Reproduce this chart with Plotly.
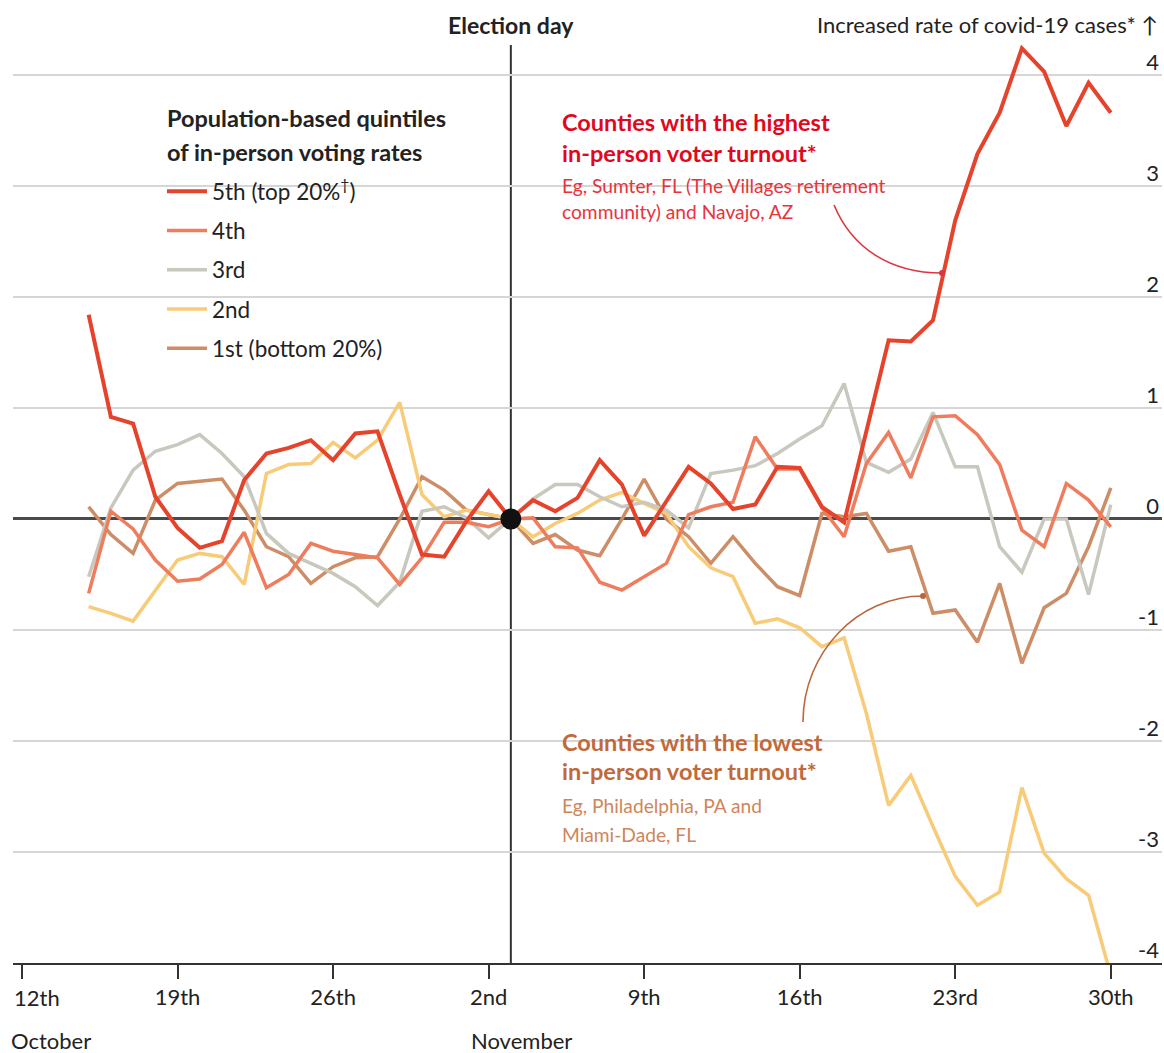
import pandas as pd
import plotly.graph_objects as go

# ---------------- data ----------------
dates = pd.date_range("2020-10-15", "2020-11-30", freq="D").strftime("%Y-%m-%d").tolist()

q5_top = [1.84, 0.92, 0.86, 0.20, -0.08, -0.26, -0.20, 0.35, 0.59, 0.64, 0.71, 0.53, 0.77, 0.79,
          0.22, -0.32, -0.34, -0.02, 0.25, 0.0, 0.17, 0.07, 0.19, 0.53, 0.31, -0.15, 0.16, 0.47,
          0.32, 0.09, 0.13, 0.47, 0.46, 0.11, -0.03, 0.78, 1.61, 1.60, 1.79, 2.69, 3.29, 3.66,
          4.24, 4.03, 3.54, 3.93, 3.66]
q4 = [-0.67, 0.07, -0.09, -0.37, -0.56, -0.54, -0.41, -0.12, -0.62, -0.50, -0.22, -0.29, -0.32, -0.35,
      -0.59, -0.35, -0.03, -0.03, -0.07, 0.0, 0.01, -0.25, -0.26, -0.57, -0.64, -0.52, -0.40, 0.04,
      0.11, 0.15, 0.74, 0.45, 0.45, 0.10, -0.16, 0.50, 0.78, 0.37, 0.92, 0.93, 0.76, 0.49,
      -0.10, -0.25, 0.32, 0.17, -0.07]
q3 = [-0.52, 0.10, 0.44, 0.61, 0.67, 0.76, 0.59, 0.38, -0.13, -0.31, -0.40, -0.49, -0.61, -0.78,
      -0.57, 0.07, 0.11, 0.01, -0.17, 0.0, 0.18, 0.31, 0.31, 0.20, 0.11, 0.15, 0.08, -0.08,
      0.41, 0.44, 0.48, 0.59, 0.72, 0.84, 1.22, 0.51, 0.42, 0.54, 0.96, 0.47, 0.47, -0.25,
      -0.48, 0.0, 0.0, -0.68, 0.13]
q2 = [-0.79, -0.85, -0.92, -0.64, -0.37, -0.31, -0.34, -0.59, 0.41, 0.49, 0.50, 0.69, 0.55, 0.71,
      1.05, 0.22, 0.02, 0.08, 0.04, 0.0, -0.16, -0.04, 0.05, 0.17, 0.24, 0.14, 0.05, -0.25,
      -0.44, -0.52, -0.94, -0.90, -0.98, -1.15, -1.07, -1.75, -2.58, -2.31, -2.77, -3.22, -3.48, -3.36,
      -2.42, -3.01, -3.24, -3.39, -4.11]
q1_bottom = [0.11, -0.14, -0.31, 0.17, 0.32, 0.34, 0.36, 0.08, -0.25, -0.34, -0.58, -0.43, -0.35, -0.34,
             0.0, 0.38, 0.26, 0.08, 0.04, 0.0, -0.22, -0.14, -0.28, -0.33, 0.0, 0.36, 0.0, -0.16,
             -0.40, -0.16, -0.40, -0.61, -0.69, 0.05, 0.02, 0.05, -0.29, -0.25, -0.85, -0.82, -1.11, -0.58,
             -1.30, -0.80, -0.67, -0.25, 0.28]

series_names = ["1st (bottom 20%)", "2nd", "3rd", "4th", "5th (top 20%<sup>†</sup>)"]
series_values = [q1_bottom, q2, q3, q4, q5_top]
series_colors = ["#cd8d66", "#f8cb78", "#c8c8be", "#ef7c5d", "#e5432c"]
series_widths = [3.5, 3.5, 3.5, 3.5, 4]
series_rank = [5, 4, 3, 2, 1]

tick_dates = ["2020-10-12", "2020-10-19", "2020-10-26", "2020-11-02",
              "2020-11-09", "2020-11-16", "2020-11-23", "2020-11-30"]
tick_labels = ["12th", "19th", "26th", "2nd", "9th", "16th", "23rd", "30th"]
y_ticks = [-4, -3, -2, -1, 0, 1, 2, 3, 4]
y_tick_labels = ["-4", "-3", "-2", "-1", "0", "1", "2", "3", "4"]
election_day = "2020-11-03"
election_value = 0

# ---------------- layout helpers ----------------
W, H = 1164, 1053
L, R, T, B = 13, 2, 45, 90
FONT = "Lato"
DARK = "#222222"


def px(x):
    return (x - L) / (W - L - R)


def py(y):
    return (H - B - y) / (H - T - B)


fig = go.Figure()

for name, vals, col, wid, rk in zip(series_names, series_values, series_colors, series_widths, series_rank):
    fig.add_trace(go.Scatter(
        x=dates, y=vals, mode="lines", name=name,
        line=dict(color=col, width=wid), legendgroup=name, legendrank=rk,
        hoverinfo="skip"))

fig.add_trace(go.Scatter(
    x=[election_day], y=[election_value], mode="markers",
    marker=dict(color="#111111", size=21), showlegend=False, hoverinfo="skip"))

x0 = pd.Timestamp("2020-10-12") - pd.Timedelta(days=9 / 22.22)
x1 = pd.Timestamp("2020-10-12") + pd.Timedelta(days=(1162 - 22) / 22.22)

shapes = []
shapes.append(dict(type="line", xref="x", yref="paper", x0=election_day, x1=election_day,
                   y0=0, y1=1, line=dict(color="#333333", width=2), layer="between"))
shapes.append(dict(type="rect", xref="paper", yref="paper", x0=px(548), x1=px(913),
                   y0=py(228), y1=py(100), fillcolor="white", line=dict(width=0), layer="between"))
shapes.append(dict(type="rect", xref="paper", yref="paper", x0=px(548), x1=px(832),
                   y0=py(852), y1=py(724), fillcolor="white", line=dict(width=0), layer="between"))
shapes.append(dict(type="rect", xref="paper", yref="paper", x0=px(146), x1=px(452),
                   y0=py(368), y1=py(100), fillcolor="white", line=dict(width=0), layer="between"))


def ppath(points):
    (a, b), (c, d), (e, f), (g, h) = points
    return (f"M {px(a)},{py(b)} C {px(c)},{py(d)} {px(e)},{py(f)} {px(g)},{py(h)}")


shapes.append(dict(type="path", xref="paper", yref="paper",
                   path=ppath([(834, 205), (852, 248), (890, 273), (942, 273)]),
                   line=dict(color="#d9363e", width=1.6)))
shapes.append(dict(type="path", xref="paper", yref="paper",
                   path=ppath([(803, 722), (803, 652), (858, 596), (923, 596)]),
                   line=dict(color="#b9683e", width=1.6)))
for (cx, cy, col) in [(942, 273, "#d9363e"), (923, 596, "#b9683e")]:
    shapes.append(dict(type="circle", xref="paper", yref="paper",
                       x0=px(cx - 3), x1=px(cx + 3), y0=py(cy + 3), y1=py(cy - 3),
                       fillcolor=col, line=dict(width=0)))

annotations = []


def note(text, x, y, size=20, color=DARK, anchor="left", bold=False):
    t = f"<b>{text}</b>" if bold else text
    annotations.append(dict(text=t, xref="paper", yref="paper", x=px(x), y=py(y),
                            xanchor=anchor, yanchor="middle", showarrow=False,
                            font=dict(family=FONT, size=size, color=color)))


note("Election day", 511, 25, size=23, anchor="center", bold=True)
note("Increased rate of covid-19 cases* ↑", 1160, 25, size=22, anchor="right")
note("Population-based quintiles", 165, 118, size=23.5, bold=True)
note("of in-person voting rates", 165, 152, size=23.5, bold=True)

RED, RED2 = "#e1081d", "#e8333b"
note("Counties with the highest", 560, 122, size=23.5, color=RED, bold=True)
note("in-person voter turnout*", 560, 153, size=23.5, color=RED, bold=True)
note("Eg, Sumter, FL (The Villages retirement", 560, 185, size=19.2, color=RED2)
note("community) and Navajo, AZ", 560, 212, size=19.2, color=RED2)

BR, BR2 = "#c2693a", "#cf8658"
note("Counties with the lowest", 560, 742, size=23.5, color=BR, bold=True)
note("in-person voter turnout*", 560, 771, size=23.5, color=BR, bold=True)
note("Eg, Philadelphia, PA and", 560, 805, size=19.2, color=BR2)
note("Miami-Dade, FL", 560, 834, size=19.2, color=BR2)

note("October", 9, 1040, size=22)
note("November", 469, 1040, size=22)

# first tick label sits right of its tick (as in the original), drawn at its date
annotations.append(dict(text=tick_labels[0], xref="x", yref="paper", x=tick_dates[0], y=py(997),
                        xanchor="left", yanchor="middle", xshift=-10, showarrow=False,
                        font=dict(family=FONT, size=22, color=DARK)))
axis_ticktext = [""] + tick_labels[1:]

fig.update_layout(
    width=W, height=H,
    margin=dict(l=L, r=R, t=T, b=B, autoexpand=False),
    paper_bgcolor="white", plot_bgcolor="white",
    font=dict(family=FONT, size=22, color=DARK),
    showlegend=True,
    legend=dict(x=px(162), y=py(170), xanchor="left", yanchor="top",
                bgcolor="rgba(255,255,255,0)", borderwidth=0,
                font=dict(family=FONT, size=22.5, color=DARK),
                traceorder="grouped", tracegroupgap=7, itemwidth=40),
    xaxis=dict(type="date", range=[x0, x1], tickvals=tick_dates, ticktext=axis_ticktext,
               showgrid=False, zeroline=False, showline=True, linecolor="#333333", linewidth=2,
               ticks="outside", ticklen=14, tickwidth=2, tickcolor="#333333",
               ticklabeloverflow="allow", automargin=False,
               tickfont=dict(family=FONT, size=22, color=DARK)),
    yaxis=dict(range=[-4, 4.27], tickvals=y_ticks, ticktext=y_tick_labels, side="right",
               ticklabelposition="inside", ticklabelshift=-13, ticks="",
               ticklabeloverflow="allow", automargin=False,
               showgrid=True, gridcolor="#d6d6d6", gridwidth=2,
               zeroline=True, zerolinecolor="#4a4a4a", zerolinewidth=2.5,
               tickfont=dict(family=FONT, size=22, color=DARK)),
    shapes=shapes, annotations=annotations,
)

fig.write_html("out.html", config={"displayModeBar": False},
               post_script="document.body.style.margin='0px';document.body.style.padding='0px';")
